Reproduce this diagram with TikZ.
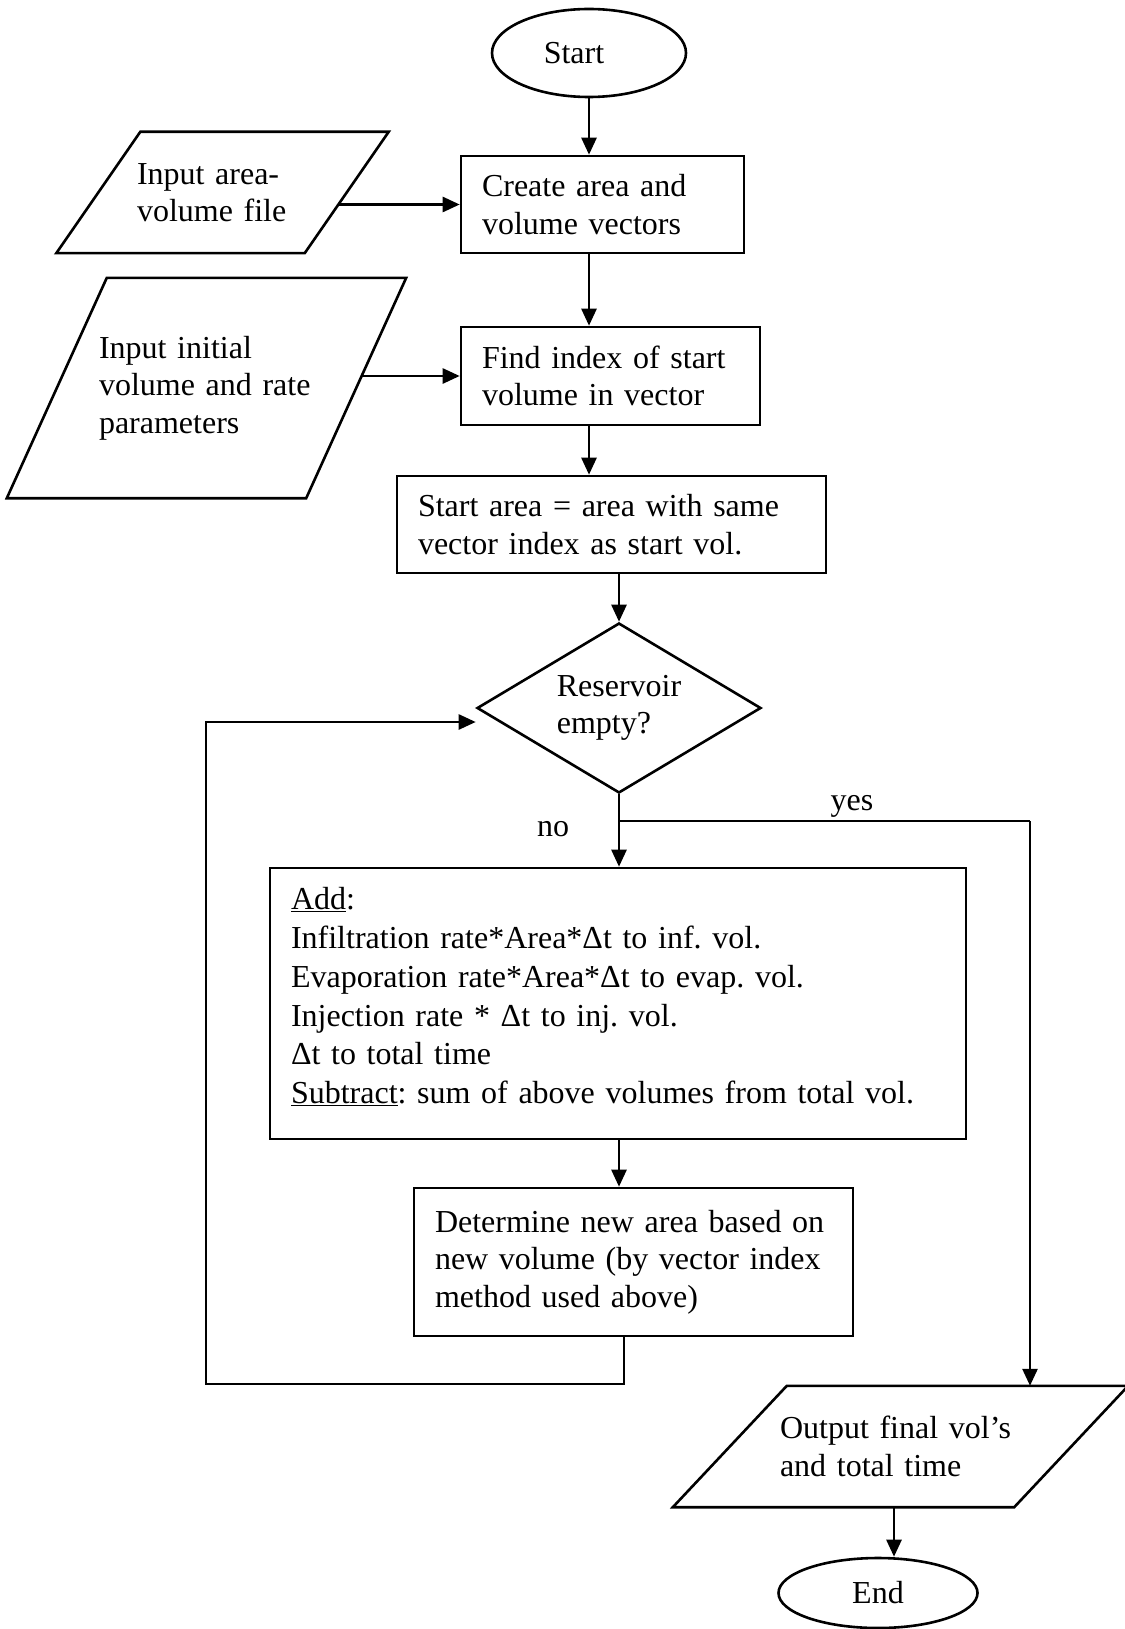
\documentclass[tikz,border=0pt]{standalone}
\usepackage{fontspec}
\setmainfont{Liberation Serif}
\usetikzlibrary{shapes.geometric,arrows.meta,calc}
\frenchspacing
\begin{document}
\begin{tikzpicture}[x=1pt,y=-1pt,
  every node/.style={font=\fontsize{32}{37.5}\selectfont},
  line/.style={line width=2.6pt},
  arr/.style={line width=2.6pt,-{Triangle[length=17pt,width=15pt]}},
  box/.style={draw,line width=2.6pt,align=left,inner xsep=21pt,inner ysep=0pt},
  io/.style={align=left,inner ysep=0pt},
  term/.style={draw,line width=2.6pt,ellipse,inner sep=0pt}]
\useasboundingbox (0,0) rectangle (1124,1629);
% main column
\node[term,minimum width=194pt,minimum height=88pt] (start) at (589,53) {\hspace*{-30pt}Start};
\node[box,text width=241pt,minimum height=97pt] (create) at (602.5,204.5) {Create area and\\volume vectors};
\node[box,text width=257pt,minimum height=98pt] (find) at (610.5,376) {Find index of start\\volume in vector};
\node[box,text width=387pt,minimum height=97pt] (sarea) at (611.5,524.5) {Start area = area with same\\vector index as start vol.};
\node[draw,line width=2.6pt,diamond,aspect=1.67,inner sep=0pt,align=left,minimum width=284pt,minimum height=170pt] (empty) at (619,708) {Reservoir\\empty?};
\node[box,text width=654pt,minimum height=271pt,text depth=210pt,font=\fontsize{32}{38.8}\selectfont] (add) at (618,1003.5) {\underline{Add}:\\Infiltration rate*Area*Δt to inf. vol.\\Evaporation rate*Area*Δt to evap. vol.\\Injection rate * Δt to inj. vol.\\Δt to total time\\\underline{Subtract}: sum of above volumes from total vol.};
\node[box,text width=397pt,minimum height=148pt] (newarea) at (633.5,1262) {Determine new area based on\\new volume (by vector index\\method used above)};
% inputs and output, slanted sides drawn round the text
\node[io,text width=171pt,inner xsep=38.5pt,minimum height=121pt] (infile) at (222.5,192.5) {Input area-\\volume file};
\draw[line] ([xshift=-42pt]infile.south west) -- ([xshift=-42pt]infile.south east) -- ([xshift=42pt]infile.north east) -- ([xshift=42pt]infile.north west) -- cycle;
\node[io,text width=215pt,inner xsep=42pt,minimum height=220pt] (inpar) at (206.5,388) {Input initial\\volume and rate\\parameters};
\draw[line] ([xshift=-50pt]inpar.south west) -- ([xshift=-50pt]inpar.south east) -- ([xshift=50pt]inpar.north east) -- ([xshift=50pt]inpar.north west) -- cycle;
\node[io,text width=241pt,inner xsep=50pt,minimum height=121pt] (out) at (900.5,1446.5) {Output final vol’s\\and total time};
\draw[line] ([xshift=-57pt]out.south west) -- ([xshift=-57pt]out.south east) -- ([xshift=57pt]out.north east) -- ([xshift=57pt]out.north west) -- cycle;
\node[term,minimum width=199pt,minimum height=70pt] (stop) at (878,1593) {End};
% labels
\node (no) at (553,829) {no};
\node (yes) at (852,806) {yes};
\coordinate (ybend) at (1030,821);
\coordinate (lp) at (206,1384);
% connectors
\draw[arr] (start.south) -- (create.north -| start);
\draw[arr] (create.south -| start) -- (find.north -| start);
\draw[arr] (find.south -| start) -- (sarea.north -| start);
\draw[arr] (sarea.south -| empty) -- (empty.north);
\draw[arr] ($(create.west -| infile.east)+(-8.3,0)$) -- (create.west);
\draw[arr] ($(find.west -| inpar.east)+(5.5,0)$) -- (find.west);
\draw[arr] (empty.south) -- (add.north -| empty);
\draw[arr] (add.south -| empty) -- (newarea.north -| empty);
\draw[arr] ([xshift=-9.5pt]newarea.south) |- (lp) |- ([yshift=-14pt]empty.west);
\draw[line] (ybend -| empty) -- (ybend);
\draw[arr] (ybend) -- (ybend |- out.north);
\draw[arr] ([xshift=16pt]stop.north |- out.south) -- ([xshift=16pt]stop.north);
\end{tikzpicture}
\end{document}
